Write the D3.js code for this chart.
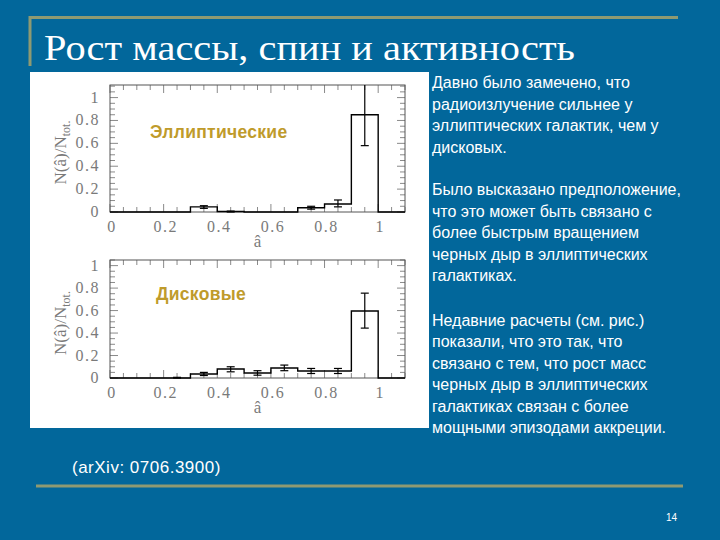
<!DOCTYPE html>
<meta charset="utf-8">
<style>
body { margin: 0; background: #02679b; }
.tick-label { font: 16px "Liberation Serif", serif; fill: #7a7a7a; letter-spacing: 1.5px; }
.axis-title { font: 17px "Liberation Serif", serif; fill: #7a7a7a; }
.panel-label { font: bold 17.5px "Liberation Sans", Arial, sans-serif; fill: #bf9b2b; letter-spacing: 0.3px; }
.body-text { font: 16px "Liberation Sans", Arial, sans-serif; fill: #fff; }
</style>
<svg width="720" height="540"></svg>
<script src="https://cdn.jsdelivr.net/npm/d3@7"></script>
<script>

// histogram bins: 0..1 in steps of 0.1
var binEdges = [0, 0.1, 0.2, 0.3, 0.4, 0.5, 0.6, 0.7, 0.8, 0.9, 1.0];

// elliptical galaxies
var ellValues = [0, 0, 0, 0.045, 0.004, 0, 0, 0.037, 0.07, 0.85];
var ellErrors = [ // [bin centre, low, high]
  [0.35, 0.032, 0.055],
  [0.45, 0.0, 0.008],
  [0.75, 0.025, 0.05],
  [0.85, 0.045, 0.105],
  [0.95, 0.58, 1.4]
];

// disc galaxies
var diskValues = [0, 0, 0, 0.035, 0.08, 0.044, 0.089, 0.062, 0.062, 0.596];
var diskErrors = [
  [0.25, 0.0, 0.006],
  [0.35, 0.022, 0.05],
  [0.45, 0.055, 0.1],
  [0.55, 0.025, 0.065],
  [0.65, 0.065, 0.115],
  [0.75, 0.04, 0.085],
  [0.85, 0.04, 0.085],
  [0.95, 0.444, 0.755]
];

var xTickLabels = ["0", "0.2", "0.4", "0.6", "0.8", "1"];
var yTickLabels = ["0", "0.2", "0.4", "0.6", "0.8", "1"];

var titleText = "Рост массы, спин и активность";
var paragraphs = [
  ["Давно было замечено, что", "радиоизлучение сильнее у", "эллиптических галактик, чем у", "дисковых."],
  ["Было высказано предположение,", "что это может быть связано с", "более быстрым вращением", "черных дыр в эллиптических", "галактиках."],
  ["Недавние расчеты (см. рис.)", "показали, что это так, что", "связано с тем, что рост масс", "черных дыр в эллиптических", "галактиках связан с более", "мощными эпизодами аккреции."]
];
var reference = "(arXiv: 0706.3900)";
var pageNumber = "14";

var svg = d3.select("svg"),
    width = +svg.attr("width"),
    height = +svg.attr("height");

svg.append("rect").attr("width", width).attr("height", height).attr("fill", "#02679b");

// decorative rules
var rule = "#8e9a72";
svg.append("line").attr("x1", 29).attr("x2", 678).attr("y1", 17.5).attr("y2", 17.5)
    .attr("stroke", rule).attr("stroke-width", 3);
svg.append("line").attr("x1", 30).attr("x2", 30).attr("y1", 16).attr("y2", 66)
    .attr("stroke", rule).attr("stroke-width", 3);
svg.append("line").attr("x1", 36).attr("x2", 683).attr("y1", 486).attr("y2", 486)
    .attr("stroke", rule).attr("stroke-width", 3);

svg.append("text")
    .attr("x", 44).attr("y", 60)
    .attr("textLength", 531).attr("lengthAdjust", "spacingAndGlyphs")
    .style("font", "36px 'Liberation Serif', serif")
    .attr("fill", "#fff")
    .text(titleText);

// white figure panel
svg.append("rect").attr("x", 30).attr("y", 72).attr("width", 399).attr("height", 356).attr("fill", "#fff");

function drawPanel(values, errors, yMax, yRange, label, labelPos) {
  var x = d3.scaleLinear().domain([0, 1.1]).range([110, 405]);
  var y = d3.scaleLinear().domain([0, yMax]).range(yRange);
  var g = svg.append("g");

  // ticks on all four sides, inside the frame
  var ticks = g.append("g").attr("stroke", "#8a8a8a").attr("stroke-width", 1);
  d3.range(0, 1.1001, 0.05).forEach(function(v, i) {
    var len = (i % 4 === 0) ? 8 : 5;
    ticks.append("line").attr("x1", x(v)).attr("x2", x(v)).attr("y1", y(0)).attr("y2", y(0) - len);
    ticks.append("line").attr("x1", x(v)).attr("x2", x(v)).attr("y1", y(yMax)).attr("y2", y(yMax) + len);
  });
  d3.range(0, yMax + 0.0001, 0.05).forEach(function(v, i) {
    var len = (i % 4 === 0) ? 8 : 5;
    ticks.append("line").attr("x1", x(0)).attr("x2", x(0) + len).attr("y1", y(v)).attr("y2", y(v));
    ticks.append("line").attr("x1", x(1.1)).attr("x2", x(1.1) - len).attr("y1", y(v)).attr("y2", y(v));
  });

  g.append("rect")
      .attr("x", x(0)).attr("y", y(yMax))
      .attr("width", x(1.1) - x(0)).attr("height", y(0) - y(yMax))
      .attr("fill", "none").attr("stroke", "#555").attr("stroke-width", 1);

  // tick labels
  xTickLabels.forEach(function(t) {
    g.append("text").attr("class", "tick-label")
        .attr("x", x(+t) + 2).attr("y", y(0) + 20)
        .attr("text-anchor", "middle").text(t);
  });
  yTickLabels.forEach(function(t) {
    g.append("text").attr("class", "tick-label")
        .attr("x", x(0) - 10).attr("y", y(+t) + 5)
        .attr("text-anchor", "end").text(t);
  });

  g.append("text").attr("class", "axis-title")
      .attr("x", x(0.55)).attr("y", y(0) + 35)
      .attr("text-anchor", "middle").text("â");

  var yl = g.append("text").attr("class", "axis-title")
      .attr("transform", "translate(66," + ((y(0) + y(yMax)) / 2 + 4) + ") rotate(-90)")
      .attr("text-anchor", "middle");
  yl.append("tspan").text("N(â)/N");
  yl.append("tspan").attr("font-size", "12px").attr("dy", 4).text("tot.");

  // step histogram
  var pts = [[0, 0]];
  values.forEach(function(v, i) {
    pts.push([binEdges[i], v], [binEdges[i + 1], v]);
  });
  pts.push([1.0, 0], [1.1, 0]);
  var line = d3.line().x(function(d) { return x(d[0]); }).y(function(d) { return y(d[1]); });
  g.append("path").attr("d", line(pts))
      .attr("fill", "none").attr("stroke", "#000").attr("stroke-width", 1.4);

  // error bars
  var eb = g.append("g").attr("stroke", "#000").attr("stroke-width", 1.2);
  errors.forEach(function(e) {
    var hi = Math.min(e[2], yMax);
    eb.append("line").attr("x1", x(e[0])).attr("x2", x(e[0])).attr("y1", y(e[1])).attr("y2", y(hi));
    eb.append("line").attr("x1", x(e[0]) - 4).attr("x2", x(e[0]) + 4).attr("y1", y(e[1])).attr("y2", y(e[1]));
    if (e[2] <= yMax)
      eb.append("line").attr("x1", x(e[0]) - 4).attr("x2", x(e[0]) + 4).attr("y1", y(e[2])).attr("y2", y(e[2]));
  });

  g.append("text").attr("class", "panel-label")
      .attr("x", labelPos[0]).attr("y", labelPos[1]).text(label);
}

drawPanel(ellValues, ellErrors, 1.11, [212, 85], "Эллиптические", [150, 138]);
drawPanel(diskValues, diskErrors, 1.05, [378, 260], "Дисковые", [156, 300]);

// body text on the right
var lineY = [
  [88, 110, 131, 153],
  [195, 217, 238, 260, 281],
  [326, 347, 369, 390, 412, 433]
];
var body = svg.append("g").attr("class", "body-text");
paragraphs.forEach(function(p, pi) {
  p.forEach(function(l, li) {
    body.append("text").attr("x", 432).attr("y", lineY[pi][li]).text(l);
  });
});

svg.append("text")
    .attr("x", 72).attr("y", 473)
    .style("font", "17px 'Liberation Sans', Arial, sans-serif")
    .style("letter-spacing", "0.5px")
    .attr("fill", "#fff").text(reference);

svg.append("text")
    .attr("x", 666).attr("y", 521)
    .style("font", "10px 'Liberation Sans', Arial, sans-serif")
    .attr("fill", "#fff").text(pageNumber);

</script>
